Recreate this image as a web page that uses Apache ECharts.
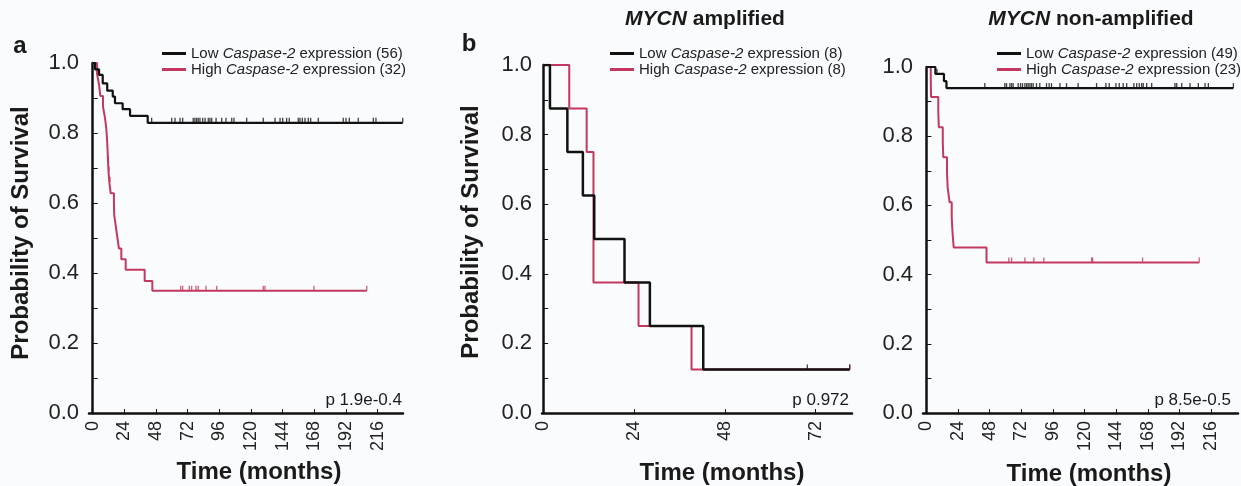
<!DOCTYPE html>
<html>
<head>
<meta charset="utf-8">
<script src="https://cdn.jsdelivr.net/npm/echarts@6/dist/echarts.min.js"></script>
<style>
  html, body { margin: 0; padding: 0; background: #fafbfd; }
  #chart { width: 1241px; height: 486px; }
</style>
</head>
<body>
<div id="chart"></div>
<script>
// ---- data (months / survival probability) ----
const longTicks = [0, 24, 48, 72, 96, 120, 144, 168, 192, 216];
const shortTicks = [0, 24, 48, 72];

// panel a: all patients
const aLowTime = [0, 1.7, 4.8, 7.6, 11, 15.2, 16.9, 22.7, 28.3, 41.7];
const aLowSurv = [1, 0.982, 0.966, 0.942, 0.921, 0.904, 0.885, 0.868, 0.849, 0.829];
const aLowCens = [44.7, 59.9, 62.4, 66.2, 68.2, 76.2, 77.5, 78.8, 80.0, 81.3, 83.4, 85.2, 87.6, 88.9, 90.2, 93.5, 97.8, 101.0, 105.4, 107.1, 116.7, 129.3, 138.2, 142.0, 144.0, 147.0, 149.0, 155.8, 157.1, 158.9, 160.9, 163.4, 165.2, 171.0, 189.9, 192.0, 194.5, 201.3, 212.7, 214.7, 235];

const aHighTime = [0, 3.3, 4.8, 5.8, 7.8, 9.3, 10.3, 10.9, 11.3, 11.6, 12.0, 12.6, 13.6, 16.1, 16.3, 17.4, 18.6, 19.9, 21.7, 25.0, 39.4, 45.2];
const aHighSurv = [1, 0.969, 0.938, 0.906, 0.875, 0.844, 0.813, 0.781, 0.75, 0.72, 0.69, 0.66, 0.628, 0.597, 0.566, 0.537, 0.504, 0.47, 0.439, 0.409, 0.377, 0.349];
const aHighCens = [11.9, 12.4, 13.1, 66.7, 68.2, 73.2, 75.0, 78.3, 80.0, 85.9, 94.0, 129.3, 130.6, 167.7, 207.7];

// panel b: MYCN amplified
const bLowTime = [0, 1.8, 6.4, 10.5, 13.5, 21.5, 28.2, 42.3];
const bLowSurv = [1, 0.875, 0.75, 0.625, 0.5, 0.375, 0.25, 0.125];
const bLowCens = [69.8, 81];

const bHighTime = [0, 6.9, 11.5, 13.3, 25.2, 39.2];
const bHighSurv = [1, 0.875, 0.75, 0.375, 0.25, 0.125];
const bHighCens = [81];

// panel c: MYCN non-amplified
const cLowTime = [0, 6.8, 13.3, 15.2];
const cLowSurv = [1, 0.98, 0.959, 0.939];
const cLowCens = [8, 44.3, 59.5, 60.8, 63.3, 64.6, 65.8, 69.6, 71.4, 72.9, 74.7, 76.0, 77.2, 78.5, 79.7, 81.0, 83.5, 86.0, 91.1, 93.1, 94.9, 101.3, 106.3, 115.1, 129.1, 136.2, 138.7, 143.8, 146.3, 149.3, 151.9, 157.4, 159.5, 161.5, 163.3, 164.5, 167.1, 170.9, 188.6, 189.9, 193.7, 200.0, 206.3, 211.4, 213.9, 232.9];

const cHighTime = [0, 3.3, 3.5, 9.0, 9.4, 12.4, 12.8, 15.6, 16.1, 17.6, 19.2, 19.8, 20.7, 45.6];
const cHighSurv = [1, 0.957, 0.913, 0.87, 0.826, 0.783, 0.739, 0.696, 0.652, 0.609, 0.565, 0.522, 0.478, 0.435];
const cHighCens = [62.5, 64.6, 74.7, 81.5, 89.1, 125.3, 126.1, 164.0, 207.0];

const names = {
  aLow: "Low Caspase-2 expression (56)",
  aHigh: "High Caspase-2 expression (32)",
  bLow: "Low Caspase-2 expression (8)",
  bHigh: "High Caspase-2 expression (8)",
  cLow: "Low Caspase-2 expression (49)",
  cHigh: "High Caspase-2 expression (23)"
};

const FONT = '"Liberation Sans", Arial, Helvetica, sans-serif';
const BLACK = "#111111";
const RED = "#c3385f";

function survAt(times, surv, t) {
  let s = surv[0];
  for (let i = 0; i < times.length; i++) if (times[i] <= t) s = surv[i];
  return s;
}

function kmSeries(name, times, surv, cens, color, width, gi) {
  const pts = times.map((t, i) => [t, surv[i]]);
  const last = Math.max.apply(null, cens);
  pts.push([last, surv[surv.length - 1]]);
  return [
    {
      name: name,
      type: "line",
      step: "end",
      xAxisIndex: gi,
      yAxisIndex: gi,
      data: pts,
      color: color,
      showSymbol: false,
      lineStyle: { color: color, width: width },
      silent: true
    },
    {
      name: name + " censored",
      type: "scatter",
      xAxisIndex: gi,
      yAxisIndex: gi,
      data: cens.map(t => [t, survAt(times, surv, t)]),
      symbol: "rect",
      symbolSize: [1.3, 5],
      symbolOffset: [0, -2.5],
      itemStyle: { color: color },
      silent: true
    }
  ];
}

function xAxis(gi, min, max, ticks) {
  return {
    type: "value",
    gridIndex: gi,
    min: min,
    max: max,
    axisLine: { show: true, lineStyle: { color: BLACK, width: 2.5 } },
    axisTick: { show: true, inside: true, length: 4, customValues: ticks, lineStyle: { color: BLACK, width: 1 } },
    axisLabel: { customValues: ticks, rotate: 90, margin: 8, fontSize: 18, color: "#222", fontFamily: FONT },
    splitLine: { show: false }
  };
}

function yAxis(gi) {
  return {
    type: "value",
    gridIndex: gi,
    min: 0,
    max: 1,
    interval: 0.1,
    axisLine: { show: true, lineStyle: { color: BLACK, width: 2.5 } },
    axisTick: { show: true, inside: true, length: 5, lineStyle: { color: BLACK, width: 1 } },
    axisLabel: {
      margin: 10,
      fontSize: 22,
      color: "#222",
      fontFamily: FONT,
      formatter: v => (Math.round(v * 10) % 2 === 0 ? v.toFixed(1) : "")
    },
    splitLine: { show: false }
  };
}

function legend(left, top, data) {
  return {
    data: data,
    left: left,
    top: top,
    orient: "vertical",
    itemGap: 1,
    itemWidth: 24,
    itemHeight: 3,
    icon: "rect",
    selectedMode: false,
    padding: 0,
    formatter: n => {
      const p = n.split("Caspase-2");
      return "{n|" + p[0] + "}{i|Caspase-2}{n|" + p[1] + "}";
    },
    textStyle: {
      fontFamily: FONT,
      rich: {
        n: { fontSize: 15, color: "#222", fontFamily: FONT },
        i: { fontSize: 15, color: "#222", fontFamily: FONT, fontStyle: "italic" }
      }
    }
  };
}

function label(x, y, text, size, weight, align, rot) {
  return {
    type: "text",
    x: x,
    y: y,
    rotation: rot || 0,
    style: {
      text: text,
      fontSize: size,
      fontWeight: weight,
      fontFamily: FONT,
      fill: "#1a1a1a",
      align: align,
      verticalAlign: "middle"
    }
  };
}

function mycnTitle(x, y, rest) {
  return {
    type: "text",
    x: x,
    y: y,
    style: {
      text: "{i|MYCN}{b|" + rest + "}",
      align: "center",
      verticalAlign: "middle",
      rich: {
        i: { fontSize: 21, fontWeight: "bold", fontStyle: "italic", fontFamily: FONT, fill: "#1a1a1a" },
        b: { fontSize: 21, fontWeight: "bold", fontFamily: FONT, fill: "#1a1a1a" }
      }
    }
  };
}

const chart = echarts.init(document.getElementById("chart"), null, { renderer: "canvas" });

const option = {
  animation: false,
  backgroundColor: "#fafbfd",
  grid: [
    { left: 89, top: 63, width: 314, height: 350 },
    { left: 542, top: 65, width: 310, height: 348 },
    { left: 923, top: 67, width: 315, height: 346 }
  ],
  xAxis: [
    xAxis(0, -2.8, 235.2, longTicks),
    xAxis(1, -0.3, 81.6, shortTicks),
    xAxis(2, -2.6, 236.4, longTicks)
  ],
  yAxis: [yAxis(0), yAxis(1), yAxis(2)],
  legend: [
    legend(162, 46, [names.aLow, names.aHigh]),
    legend(610, 46, [names.bLow, names.bHigh]),
    legend(997, 46, [names.cLow, names.cHigh])
  ],
  graphic: [
    label(20, 46, "a", 24, "bold", "center"),
    label(469, 44, "b", 24, "bold", "center"),
    mycnTitle(705, 19, " amplified"),
    mycnTitle(1091, 19, " non-amplified"),
    label(21, 233, "Probability of Survival", 24, "bold", "center", Math.PI / 2),
    label(471, 232, "Probability of Survival", 24, "bold", "center", Math.PI / 2),
    label(259, 472, "Time (months)", 24, "bold", "center"),
    label(722, 473, "Time (months)", 24, "bold", "center"),
    label(1089, 474, "Time (months)", 24, "bold", "center"),
    label(402, 400, "p 1.9e-0.4", 17, "normal", "right"),
    label(849, 400, "p 0.972", 17, "normal", "right"),
    label(1231, 400, "p 8.5e-0.5", 17, "normal", "right")
  ],
  series: [].concat(
    kmSeries(names.aHigh, aHighTime, aHighSurv, aHighCens, RED, 2, 0),
    kmSeries(names.aLow, aLowTime, aLowSurv, aLowCens, BLACK, 2.2, 0),
    kmSeries(names.bHigh, bHighTime, bHighSurv, bHighCens, RED, 2, 1),
    kmSeries(names.bLow, bLowTime, bLowSurv, bLowCens, BLACK, 2.5, 1),
    kmSeries(names.cHigh, cHighTime, cHighSurv, cHighCens, RED, 2, 2),
    kmSeries(names.cLow, cLowTime, cLowSurv, cLowCens, BLACK, 2.2, 2)
  )
};

chart.setOption(option);
</script>
</body>
</html>
